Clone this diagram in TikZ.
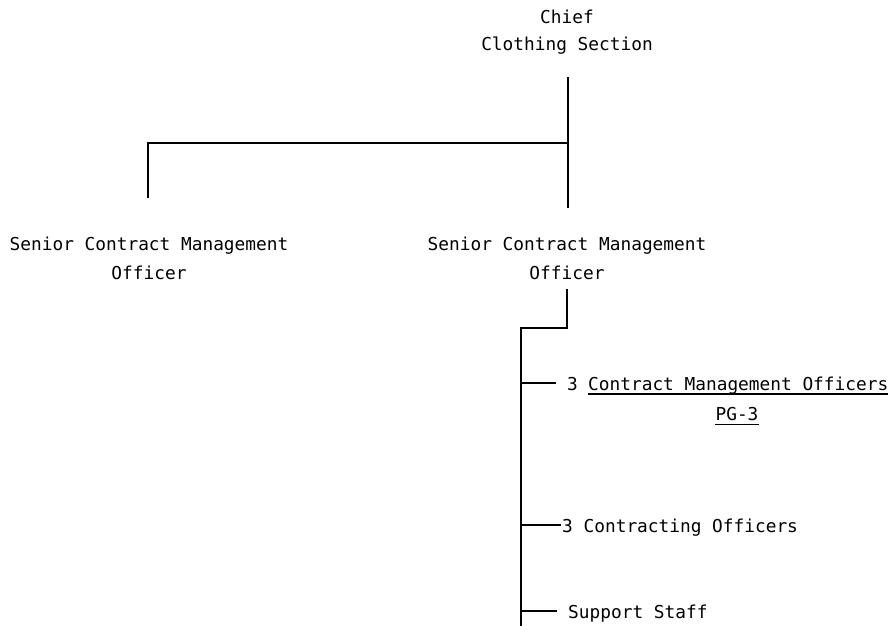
\documentclass[tikz,border=0pt]{standalone}
\usepackage{fontspec}
\setmonofont{DejaVu Sans Mono}
\begin{document}
\begin{tikzpicture}[x=1pt,y=-1pt,
  txt/.style={font=\ttfamily\fontsize{17.8}{28}\selectfont, inner sep=0pt, anchor=base},
  conn/.style={line width=1.6pt, line cap=rect},
  uline/.style={line width=1.6pt}]
\useasboundingbox (0,0) rectangle (894,626);
% text nodes
\node[txt] (chiefA) at (567,24) {Chief};
\node[txt] (chiefB) at (567,51) {Clothing Section};
\node[txt] (scmoLA) at (149,250) {Senior Contract Management};
\node[txt] (scmoLB) at (149,279) {Officer};
\node[txt] (scmoRA) at (567,250) {Senior Contract Management};
\node[txt] (scmoRB) at (567,279) {Officer};
\node[txt, anchor=base west] (num1) at (567,390) {3};
\node[txt, anchor=base west] (cmo) at (588,390) {Contract Management Officers};
\node[txt] (pg) at (737,420) {PG-3};
\node[txt, anchor=base west] (co) at (562,532) {3 Contracting Officers};
\node[txt, anchor=base west] (ss) at (568,618) {Support Staff};
% underlines
\draw[uline] (cmo.base west) ++(0,4) -- ([yshift=-4pt]cmo.base east);
\draw[uline] (pg.base west) ++(0,4.5) -- ([yshift=-4.5pt]pg.base east);
% junction coordinates
\coordinate (chiefOut) at (568,78);
\coordinate (jTop) at (568,143);
\coordinate (jLeft) at (148,143);
\coordinate (leftIn) at (148,197);
\coordinate (rightIn) at (568,207);
\coordinate (rOut) at (567,290);
\coordinate (rTurn) at (567,328);
\coordinate (spineTop) at (521,328);
\coordinate (spineBot) at (521,625);
\coordinate (b1) at (521,383);
\coordinate (b1e) at (555,383);
\coordinate (b2) at (521,525);
\coordinate (b2e) at (560,525);
\coordinate (b3) at (521,611);
\coordinate (b3e) at (556,611);
% connectors
\draw[conn] (chiefOut) -- (rightIn);
\draw[conn] (jTop) -- (jLeft) -- (leftIn);
\draw[conn] (rOut) -- (rTurn) -- (spineTop) -- (spineBot);
\draw[conn] (b1) -- (b1e);
\draw[conn] (b2) -- (b2e);
\draw[conn] (b3) -- (b3e);
\end{tikzpicture}
\end{document}
